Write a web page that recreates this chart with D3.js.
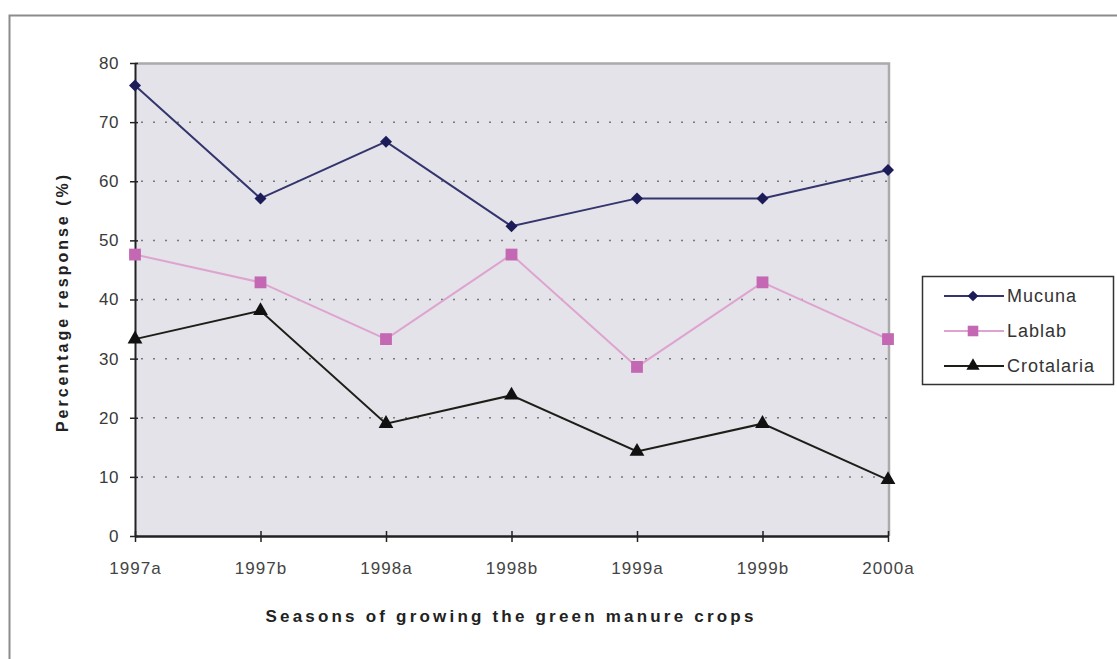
<!DOCTYPE html>
<html><head><meta charset="utf-8">
<script src="https://cdn.jsdelivr.net/npm/d3@7"></script>
<style>body{margin:0;background:#fff}svg{display:block}</style>
</head><body>
<script>
const categories = ["1997a","1997b","1998a","1998b","1999a","1999b","2000a"];
const mucuna = [76.2, 57.1, 66.7, 52.4, 57.1, 57.1, 61.9];
const lablab = [47.6, 42.9, 33.3, 47.6, 28.6, 42.9, 33.3];
const crotalaria = [33.3, 38.1, 19.0, 23.8, 14.3, 19.0, 9.5];
const yTicks = [0,10,20,30,40,50,60,70,80];
const seriesNames = ["Mucuna","Lablab","Crotalaria"];

const W = 1117, H = 659;
const svg = d3.select("body").append("svg").attr("width", W).attr("height", H);
const font = "Liberation Sans, Arial, sans-serif";

// outer frame
svg.append("path").attr("d", `M9.5,${H} L9.5,15.5 L${W},15.5`).attr("fill","none").attr("stroke","#8c8c8c").attr("stroke-width",2);

const L = 135, R = 888, T = 63, B = 536;
const x = d3.scalePoint().domain(categories).range([L, R]);
const y = d3.scaleLinear().domain([0, 80]).range([B, T]);

// plot background
svg.append("rect").attr("x", L).attr("y", T).attr("width", R - L).attr("height", B - T).attr("fill", "#e3e3e9");
svg.append("path").attr("d", `M${L},${T+0.5} L${R+1},${T+0.5} L${R+1},${B}`).attr("fill","none").attr("stroke","#ababab").attr("stroke-width",2.5);

// gridlines
svg.append("g").selectAll("line").data(yTicks.filter(d => d > 0 && d < 80)).join("line")
  .attr("x1", L + 6).attr("x2", R).attr("y1", d => y(d)).attr("y2", d => y(d))
  .attr("stroke", "#7a7a7a").attr("stroke-width", 1.5).attr("stroke-dasharray", "2,10");

// axes
const yAxis = svg.append("g").attr("transform", `translate(${L},0)`)
  .call(d3.axisLeft(y).tickValues(yTicks).tickSize(5).tickSizeOuter(0));
yAxis.select(".domain").attr("stroke", "#222").attr("stroke-width", 2);
yAxis.selectAll(".tick line").attr("stroke", "#222").attr("x2", 3).attr("x1", -5).attr("stroke-width", 1.5);
yAxis.selectAll("text").attr("font-family", font).attr("font-size", 17).attr("fill", "#3a3a3a")
  .attr("x", -16).attr("letter-spacing", 0.5);

const xAxis = svg.append("g").attr("transform", `translate(0,${B})`)
  .call(d3.axisBottom(x).tickSize(5).tickSizeOuter(0));
xAxis.select(".domain").attr("stroke", "#222").attr("stroke-width", 2.5);
xAxis.selectAll(".tick line").attr("stroke", "#222").attr("y1", -5).attr("y2", 6).attr("stroke-width", 1.5);
xAxis.selectAll("text").attr("font-family", font).attr("font-size", 17).attr("fill", "#444")
  .attr("dy", 0).attr("y", 38).attr("letter-spacing", 1);

// axis titles
svg.append("text").attr("x", 511).attr("y", 622).attr("text-anchor","middle")
  .attr("font-family", font).attr("font-size", 17).attr("font-weight","bold").attr("fill","#222")
  .attr("letter-spacing", 3.2)
  .text("Seasons of growing the green manure crops");
svg.append("text").attr("transform", `translate(68,${302}) rotate(-90)`).attr("text-anchor","middle")
  .attr("font-family", font).attr("font-size", 16).attr("font-weight","bold").attr("fill","#222")
  .attr("letter-spacing", 3)
  .text("Percentage response (%)");

const series = [
  {name: seriesNames[0], values: mucuna, line: "#34346e", fill: "#1c1c58", shape: d3.symbolSquare, rot: 45, size: 72},
  {name: seriesNames[1], values: lablab, line: "#dfa3d0", fill: "#c468b4", shape: d3.symbolSquare, rot: 0, size: 140},
  {name: seriesNames[2], values: crotalaria, line: "#1e1e18", fill: "#111", shape: d3.symbolTriangle, rot: 0, size: 95}
];

const line = d3.line().x((d, i) => x(categories[i])).y(d => y(d));
series.forEach(s => {
  svg.append("path").datum(s.values).attr("d", line).attr("fill","none").attr("stroke", s.line).attr("stroke-width", 2);
  svg.append("g").selectAll("path").data(s.values).join("path")
    .attr("transform", (d, i) => `translate(${x(categories[i])},${y(d)}) rotate(${s.rot})`)
    .attr("d", d3.symbol().type(s.shape).size(s.size)).attr("fill", s.fill);
});

// legend
const lg = svg.append("g").attr("transform", "translate(922,276)");
lg.append("rect").attr("x", 0.5).attr("y", 0.5).attr("width", 191).attr("height", 108).attr("fill","#fff").attr("stroke","#333").attr("stroke-width",1.5);
series.forEach((s, i) => {
  const yy = 20 + i * 35;
  lg.append("line").attr("x1", 22).attr("x2", 82).attr("y1", yy).attr("y2", yy).attr("stroke", s.line).attr("stroke-width", 2);
  lg.append("path").attr("transform", `translate(51,${yy}) rotate(${s.rot})`).attr("d", d3.symbol().type(s.shape).size(s.size * 0.8)).attr("fill", s.fill);
  lg.append("text").attr("x", 85).attr("y", yy + 6).attr("font-family", font).attr("font-size", 18).attr("fill", "#333")
    .attr("letter-spacing", 1).text(s.name);
});
</script>
</body></html>
